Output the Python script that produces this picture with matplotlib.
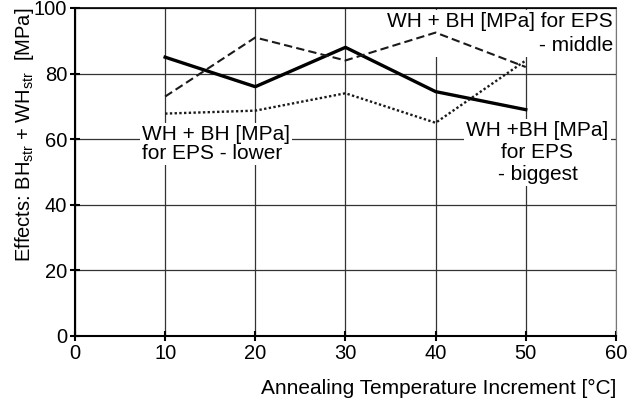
import matplotlib

matplotlib.use("Agg")
import matplotlib.pyplot as plt

plt.rcParams["font.family"] = ["Liberation Sans", "DejaVu Sans"]

# data
temps = [10, 20, 30, 40, 50]
eps_biggest = [85.0, 76.0, 88.0, 74.5, 69.0]
eps_middle = [73.0, 91.0, 84.0, 92.5, 82.0]
eps_lower = [67.8, 68.7, 74.0, 65.0, 84.0]

xticks = [0, 10, 20, 30, 40, 50, 60]
yticks = [0, 20, 40, 60, 80, 100]

fig = plt.figure(figsize=(6.29, 4.01), dpi=100)
ax = fig.add_axes([0.1192, 0.1621, 0.860, 0.818])

ax.plot(temps, eps_biggest, "-", color="black", lw=2.4, zorder=5)
ax.plot(temps, eps_middle, color="#1a1a1a", lw=1.5, ls=(0, (4, 2)), zorder=5)
ax.plot(temps, eps_lower, color="#1a1a1a", lw=1.7, ls=(0, (1, 1)), zorder=5)

ax.set_xlim(0, 60)
ax.set_ylim(0, 100)
ax.set_xticks(xticks)
ax.set_yticks(yticks)
ax.grid(True, color="#333333", lw=0.9, zorder=1)
ax.set_axisbelow(True)
ax.tick_params(direction="inout", length=7, width=1.5, labelsize=14.5, pad=2)

for side in ("left", "bottom"):
    ax.spines[side].set_linewidth(1.5)
ax.spines["top"].set_linewidth(1.2)
ax.spines["right"].set_color("#777777")

box = dict(boxstyle="square,pad=0.1", fc="white", ec="none")
fs = 15
ax.text(7.4, 58.5, "WH + BH [MPa]\nfor EPS - lower", fontsize=fs, ha="left", va="center",
        linespacing=1.0, bbox=box, zorder=4)
ax.text(59.7, 92.2, "WH + BH [MPa] for EPS\n- middle", fontsize=fs, ha="right", va="center",
        linespacing=1.3, multialignment="right", bbox=box, zorder=4)
ax.text(51.3, 56.0, "WH +BH [MPa]\nfor EPS\n- biggest", fontsize=fs, ha="center", va="center",
        linespacing=1.2, bbox=box, zorder=4)

fig.text(25 / 629, 1 - 135 / 401, "Effects: BH$_{\\mathregular{str}}$ + WH$_{\\mathregular{str}}$  [MPa]",
         rotation=90, ha="center", va="center", fontsize=14.5)
fig.text(616 / 629, 1 - 388 / 401, "Annealing Temperature Increment [°C]",
         ha="right", va="center", fontsize=15)

fig.savefig("out.png", dpi=100)
